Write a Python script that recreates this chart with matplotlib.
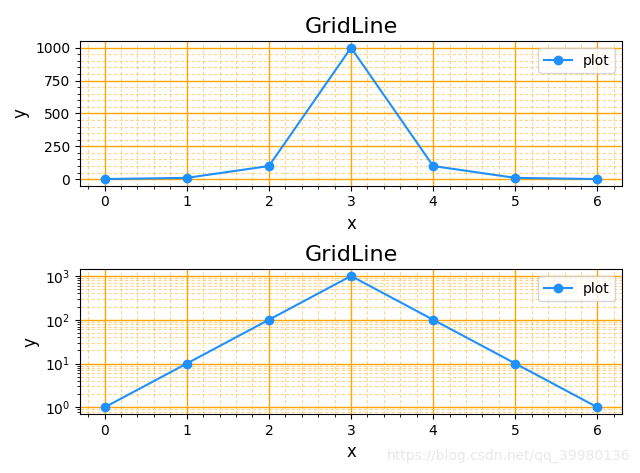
import matplotlib
matplotlib.use('Agg')
import matplotlib.pyplot as plt

x = [0, 1, 2, 3, 4, 5, 6]
y = [1, 10, 100, 1000, 100, 10, 1]

fig = plt.figure(figsize=(6.4, 4.73), dpi=100)
for i, scale in enumerate(['linear', 'log']):
    ax = fig.add_subplot(2, 1, i + 1)
    ax.plot(x, y, 'o-', color='dodgerblue', label='plot')
    ax.set_yscale(scale)
    ax.set_title('GridLine', fontsize=16)
    ax.set_xlabel('x', fontsize=12)
    ax.set_ylabel('y', fontsize=12)
    ax.minorticks_on()
    ax.grid(which='major', color='orange', linestyle='-', linewidth=1.0)
    ax.grid(which='minor', color='orange', linestyle=(0, (3, 2)), linewidth=0.8, alpha=0.45)
    ax.legend(loc='upper right')

plt.subplots_adjust(left=0.125, right=0.972, top=0.913, bottom=0.125, hspace=0.58)
fig.text(0.985, 0.022, 'https://blog.csdn.net/qq_39980136', ha='right', va='bottom',
         fontsize=10, color='#e8e8e8')
fig.savefig('out.png', dpi=100)
